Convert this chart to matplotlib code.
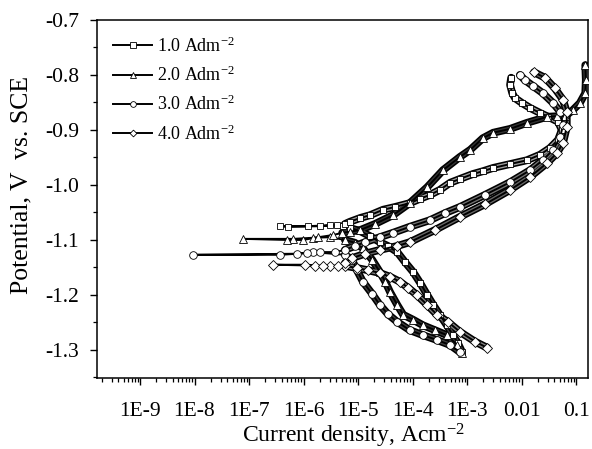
import numpy as np
import matplotlib
matplotlib.use('Agg')
import matplotlib.pyplot as plt
from matplotlib.ticker import FixedLocator, FixedFormatter, LogLocator, MultipleLocator, NullFormatter

plt.rcParams['font.family'] = ['Liberation Serif', 'DejaVu Serif']
plt.rcParams['mathtext.fontset'] = 'custom'
plt.rcParams['mathtext.rm'] = 'Liberation Serif'
plt.rcParams['mathtext.it'] = 'Liberation Serif:italic'
plt.rcParams['mathtext.bf'] = 'Liberation Serif:bold'

# ---------------- data (log10 of current density in A/cm2, potential in V vs SCE) -------------
series_labels = ['1.0 Adm$^{-2}$', '2.0 Adm$^{-2}$', '3.0 Adm$^{-2}$', '4.0 Adm$^{-2}$']
series_markers = ['s', '^', 'o', 'D']

# 1.0 A/dm2
sq_cath_logi = [-3.09, -3.17, -3.26, -3.37, -3.50, -3.62, -3.73, -3.86, -3.99, -4.14, -4.28, -4.45, -4.60, -4.78, -4.96, -5.15, -5.28]
sq_cath_E = [-1.304, -1.287, -1.273, -1.255, -1.236, -1.218, -1.200, -1.178, -1.158, -1.140, -1.122, -1.111, -1.104, -1.093, -1.084, -1.078, -1.075]
sq_corr_logi = [-5.51, -5.92, -6.43, -6.28, -5.70, -5.39]
sq_corr_E = [-1.073, -1.075, -1.075, -1.076, -1.075, -1.073]
sq_anod_logi = [-5.24, -5.15, -4.96, -4.78, -4.54, -4.32, -4.05, -3.86, -3.68, -3.50, -3.31, -3.13, -2.89, -2.71, -2.52, -2.21, -1.90, -1.66, -1.48, -1.33, -1.26, -1.33, -1.51, -1.66, -1.84, -1.99, -2.12, -2.17, -2.21, -2.19]
sq_anod_E = [-1.071, -1.067, -1.060, -1.055, -1.045, -1.040, -1.033, -1.025, -1.018, -1.009, -0.996, -0.989, -0.980, -0.975, -0.969, -0.962, -0.955, -0.945, -0.933, -0.918, -0.900, -0.885, -0.876, -0.869, -0.860, -0.851, -0.842, -0.833, -0.818, -0.805]

# 2.0 A/dm2
tr_cath_logi = [-3.09, -3.18, -3.37, -3.59, -3.81, -3.99, -4.17, -4.28, -4.41, -4.50, -4.60, -4.74, -4.91, -5.06, -5.24]
tr_cath_E = [-1.305, -1.291, -1.273, -1.264, -1.255, -1.245, -1.236, -1.218, -1.195, -1.176, -1.158, -1.136, -1.115, -1.105, -1.100]
tr_corr_logi = [-5.51, -5.83, -6.19, -7.11, -6.30, -6.01, -5.73, -5.46]
tr_corr_E = [-1.095, -1.096, -1.098, -1.098, -1.100, -1.100, -1.095, -1.091]
tr_anod_logi = [-5.29, -5.15, -4.96, -4.69, -4.36, -4.05, -3.73, -3.44, -3.13, -2.94, -2.71, -2.52, -2.21, -1.90, -1.53, -1.35, -1.20, -1.06, -0.93, -0.83, -0.82, -0.83]
tr_anod_E = [-1.087, -1.085, -1.082, -1.071, -1.055, -1.033, -1.004, -0.973, -0.949, -0.936, -0.915, -0.905, -0.898, -0.887, -0.876, -0.875, -0.875, -0.864, -0.851, -0.833, -0.809, -0.782]

# 3.0 A/dm2
ci_cath_logi = [-3.13, -3.31, -3.55, -3.81, -4.05, -4.28, -4.45, -4.60, -4.74, -4.91, -5.02, -5.11, -5.24]
ci_cath_E = [-1.304, -1.291, -1.282, -1.273, -1.264, -1.249, -1.235, -1.218, -1.198, -1.176, -1.155, -1.136, -1.127]
ci_corr_logi = [-5.83, -6.12, -8.03, -6.43, -5.94, -5.70, -5.42]
ci_corr_E = [-1.122, -1.125, -1.127, -1.127, -1.124, -1.122, -1.122]
ci_anod_logi = [-5.24, -5.06, -4.87, -4.60, -4.36, -4.05, -3.68, -3.40, -3.13, -2.67, -2.21, -1.84, -1.61, -1.42, -1.29, -1.24, -1.29, -1.42, -1.61, -1.79, -1.94, -2.03]
ci_anod_E = [-1.118, -1.111, -1.104, -1.095, -1.087, -1.076, -1.064, -1.051, -1.040, -1.018, -0.995, -0.973, -0.955, -0.936, -0.913, -0.891, -0.867, -0.851, -0.833, -0.820, -0.809, -0.800]

# 4.0 A/dm2
di_cath_logi = [-2.63, -2.85, -3.13, -3.35, -3.55, -3.73, -3.92, -4.08, -4.23, -4.41, -4.60, -4.82, -5.02, -5.24]
di_cath_E = [-1.296, -1.285, -1.267, -1.249, -1.236, -1.218, -1.200, -1.187, -1.176, -1.167, -1.160, -1.155, -1.151, -1.147]
di_corr_logi = [-5.51, -5.79, -5.97, -6.56, -5.64, -5.37]
di_corr_E = [-1.147, -1.147, -1.145, -1.145, -1.147, -1.147]
di_anod_logi = [-5.24, -5.11, -4.87, -4.60, -4.28, -4.05, -3.59, -3.13, -2.67, -2.21, -1.84, -1.53, -1.35, -1.24, -1.17, -1.17, -1.24, -1.39, -1.57, -1.77]
di_anod_E = [-1.142, -1.133, -1.125, -1.118, -1.111, -1.104, -1.082, -1.058, -1.035, -1.009, -0.985, -0.960, -0.942, -0.924, -0.895, -0.867, -0.845, -0.824, -0.805, -0.795]

x_tick_values = [1e-9, 1e-8, 1e-7, 1e-6, 1e-5, 1e-4, 1e-3, 1e-2, 1e-1]
x_tick_labels = ['1E-9', '1E-8', '1E-7', '1E-6', '1E-5', '1E-4', '1E-3', '0.01', '0.1']
y_tick_values = [-1.3, -1.2, -1.1, -1.0, -0.9, -0.8, -0.7]
y_tick_labels = ['-1.3', '-1.2', '-1.1', '-1.0', '-0.9', '-0.8', '-0.7']

curves = [
    (sq_cath_logi, sq_cath_E, sq_corr_logi, sq_corr_E, sq_anod_logi, sq_anod_E),
    (tr_cath_logi, tr_cath_E, tr_corr_logi, tr_corr_E, tr_anod_logi, tr_anod_E),
    (ci_cath_logi, ci_cath_E, ci_corr_logi, ci_corr_E, ci_anod_logi, ci_anod_E),
    (di_cath_logi, di_cath_E, di_corr_logi, di_corr_E, di_anod_logi, di_anod_E),
]
# style only: marker sizes and band shades (cathodic, anodic) that mimic the overlapping-marker texture
marker_sizes = {'s': 5.0, '^': 5.5, 'o': 5.5, 'D': 4.6}
band_shades = [('0.25', '0.62'), ('0.2', '0.2'), ('0.25', '0.45'), ('0.5', '0.4')]

# ---------------- figure -------------
fig = plt.figure(figsize=(5.92, 4.49), dpi=100)
ax = fig.add_axes([97/592, 1 - 378/449, (588 - 97)/592, (378 - 20)/449])
ax.set_xscale('log')

for (cl, ce, rl, re_, al, ae), lab, mk, shades in zip(curves, series_labels, series_markers, band_shades):
    for (bl, be), shade in zip(((cl, ce), (al, ae)), shades):
        bx = 10.0 ** np.array(bl)
        ax.plot(bx, be, color='black', lw=5.6, solid_capstyle='round', solid_joinstyle='round', zorder=2)
        ax.plot(bx, be, color=shade, lw=3.3, solid_capstyle='round', solid_joinstyle='round', zorder=3)
    li = np.array(cl + rl + al)
    le = np.array(ce + re_ + ae)
    ax.plot(10.0 ** li, le, color='black', lw=1.4, marker=mk, ms=marker_sizes[mk],
            mfc='white', mec='black', mew=0.6, zorder=4, label=lab)

ax.set_xlim(10 ** -9.789, 10 ** -0.78)
ax.set_ylim(-1.351, -0.7)

ax.xaxis.set_major_locator(FixedLocator(x_tick_values))
ax.xaxis.set_major_formatter(FixedFormatter(x_tick_labels))
ax.xaxis.set_minor_locator(LogLocator(base=10, subs=np.arange(2, 10), numticks=20))
ax.xaxis.set_minor_formatter(NullFormatter())
ax.yaxis.set_major_locator(FixedLocator(y_tick_values))
ax.yaxis.set_major_formatter(FixedFormatter(y_tick_labels))
ax.yaxis.set_minor_locator(MultipleLocator(0.05))

ax.tick_params(which='major', direction='out', length=5, width=1.0, labelsize=15.5, top=False, right=False)
ax.tick_params(which='minor', direction='out', length=2.8, width=0.9, top=False, right=False)
ax.tick_params(axis='x', which='major', pad=12)
ax.tick_params(axis='y', which='major', pad=8)
for s in ax.spines.values():
    s.set_linewidth(1.1)

fig.text(353/592, 7/449, 'Current density, Acm$^{-2}$', ha='center', va='baseline', fontsize=17)
fig.text(21/592, 1 - 185/449, 'Potential, V  vs. SCE', ha='center', va='center', rotation=90, fontsize=18.5)

leg = ax.legend(loc='upper left', bbox_to_anchor=(0.01, 0.985), frameon=False, fontsize=13,
                handlelength=2.2, handletextpad=0.25, labelspacing=0.55, numpoints=1,
                markerscale=0.75, borderaxespad=0.2)

fig.savefig('out.png', dpi=100)
